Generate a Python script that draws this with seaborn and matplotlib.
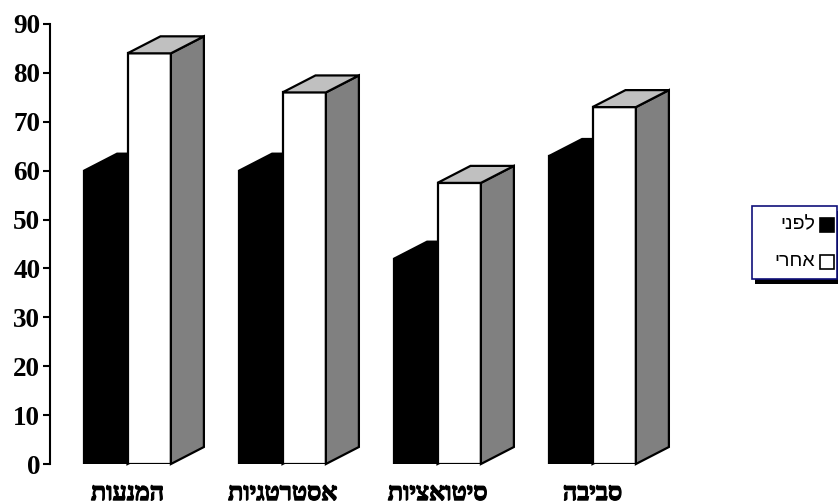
import numpy as np
import pandas as pd
import matplotlib
matplotlib.use('Agg')
import matplotlib.pyplot as plt
import matplotlib.patheffects as pe
import seaborn as sns
from matplotlib.patches import Polygon, Rectangle

categories = ['המנעות', 'אסטרטגיות', 'סיטואציות', 'סביבה']
series = ['לפני', 'אחרי']
before = [60, 60, 42, 63]
after = [84, 76, 57.5, 73]
yticks = list(range(0, 100, 10))

front_colors = ['#000000', '#ffffff']
top_colors = ['#000000', '#c0c0c0']
side_colors = ['#000000', '#808080']


def visual(s):
    # matplotlib lays glyphs out left to right, so Hebrew is reversed for display
    return s[::-1]


df = pd.DataFrame({
    'category': categories * 2,
    'series': [series[0]] * len(categories) + [series[1]] * len(categories),
    'value': before + after,
})

sns.set_theme(style='white')
plt.rcParams['font.family'] = ['Liberation Serif', 'DejaVu Serif', 'DejaVu Sans']

W, H = 838, 504
fig = plt.figure(figsize=(W / 100, H / 100), dpi=100)
ax = fig.add_axes([50 / W, 40 / H, 620 / W, 440 / H])

sns.barplot(data=df, x='category', y='value', hue='series',
            order=categories, hue_order=series, palette=front_colors,
            saturation=1, width=0.56, gap=0, edgecolor='black',
            linewidth=1.6, legend=False, ax=ax, zorder=2)

ax.set_xlim(-0.5, 3.5)
ax.set_ylim(0, 90)

# 3D depth offset (pixels -> data units)
px_per_x = 620 / 4
px_per_y = 440 / 90
dx = 33 / px_per_x
dy = 17 / px_per_y

for k, cont in enumerate(ax.containers):
    z = 1 if k == 0 else 2.5
    for bar in cont:
        x0 = bar.get_x()
        x1 = x0 + bar.get_width()
        h = bar.get_height()
        top = Polygon([(x0, h), (x0 + dx, h + dy), (x1 + dx, h + dy), (x1, h)],
                      closed=True, facecolor=top_colors[k], edgecolor='black',
                      lw=1.6, zorder=z, clip_on=False, joinstyle='miter')
        side = Polygon([(x1, 0), (x1 + dx, dy), (x1 + dx, h + dy), (x1, h)],
                       closed=True, facecolor=side_colors[k], edgecolor='black',
                       lw=1.6, zorder=z, clip_on=False, joinstyle='miter')
        ax.add_patch(side)
        ax.add_patch(top)

ax.set_yticks(yticks)
ax.set_yticklabels([str(t) for t in yticks], fontweight='bold', fontsize=19.5,
                   color='black')
ax.tick_params(axis='y', left=True, direction='out', length=5, width=1.5,
               pad=2, color='black')
ax.set_xticks(range(len(categories)))
xlabels = ax.set_xticklabels([visual(c) for c in categories], fontweight='bold',
                             fontsize=18, color='black')
for t in xlabels:
    t.set_path_effects([pe.withStroke(linewidth=0.9, foreground='black')])
ax.tick_params(axis='x', bottom=False, length=0, pad=13)
ax.set_xlabel('')
ax.set_ylabel('')

for s in ['top', 'right', 'bottom']:
    ax.spines[s].set_visible(False)
ax.spines['left'].set_color('black')
ax.spines['left'].set_linewidth(1.5)
ax.spines['left'].set_zorder(3)

# legend box with shadow
def fx(px):
    return px / W

def fy(py):
    return 1 - py / H

bx0, bx1, by0, by1 = 752, 837, 206, 279
fig.patches.append(Rectangle((fx(bx0 + 3), fy(by1 + 5)), fx(bx1 - bx0), (by1 - by0) / H,
                             transform=fig.transFigure, facecolor='black',
                             edgecolor='none', zorder=5))
fig.patches.append(Rectangle((fx(bx0), fy(by1)), fx(bx1 - bx0), (by1 - by0) / H,
                             transform=fig.transFigure, facecolor='white',
                             edgecolor='#10107a', lw=1.2, zorder=6))
entry_y = [225, 262]
for name, color, yy in zip(series, front_colors, entry_y):
    fig.text(fx(815), fy(yy), visual(name), ha='right', va='center', fontsize=14,
             family=['Liberation Sans', 'DejaVu Sans'], color='black', zorder=7)
    fig.patches.append(Rectangle((fx(820), fy(yy + 7)), fx(14), 14 / H,
                                 transform=fig.transFigure, facecolor=color,
                                 edgecolor='black', lw=1.2, zorder=7))

fig.savefig('out.png', dpi=100, facecolor='white')
